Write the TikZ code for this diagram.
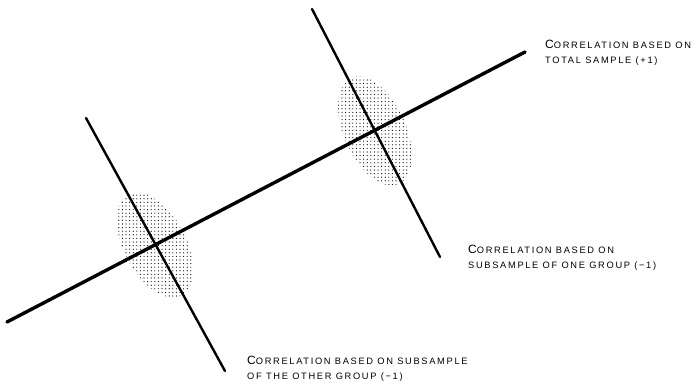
\documentclass[tikz,border=0pt]{standalone}
\usepackage{fontspec}
\newfontfamily\lettering[LetterSpace=18]{Liberation Sans}
\usetikzlibrary{patterns.meta}
\newcommand\initcap[1]{{\fontsize{12}{14}\selectfont #1}}

\tikzset{
  total line/.style={line width=3.4pt,line cap=round},
  group line/.style={line width=2.4pt,line cap=round},
  scatter/.style={pattern={Dots[distance=3.6pt,radius=0.6pt]},pattern color=black},
  caption/.style={anchor=north west,inner sep=0pt,align=left,font={\lettering\fontsize{9.3}{14.5}\selectfont}}
}

\begin{document}
\begin{tikzpicture}[x=1pt,y=1pt]
\useasboundingbox (0,0) rectangle (696,386);
% end points of the three lines
\coordinate (tot0) at (7,64);
\coordinate (tot1) at (525,334);
\coordinate (one0) at (312,377);
\coordinate (one1) at (440,129);
\coordinate (oth0) at (86,268);
\coordinate (oth1) at (225,15);
\coordinate (oneC) at (375,255);
\coordinate (othC) at (155,141);
% the two subsample clouds
\fill[scatter,rotate around={-66:(oneC)}] (oneC) ellipse [x radius=58pt,y radius=31pt];
\fill[scatter,rotate around={-62:(othC)}] (othC) ellipse [x radius=57pt,y radius=31pt];
% lines
\draw[total line] (tot0) -- (tot1);
\draw[group line] (one0) -- (one1);
\draw[group line] (oth0) -- (oth1);
% labels
\node[caption] (totlbl) at (545,346)
  {\initcap{C}ORRELATION BASED ON\\TOTAL SAMPLE (+1)};
\node[caption] (onelbl) at (468,141)
  {\initcap{C}ORRELATION BASED ON\\SUBSAMPLE OF ONE GROUP (−1)};
\node[caption] (othlbl) at (247,30)
  {\initcap{C}ORRELATION BASED ON SUBSAMPLE\\OF THE OTHER GROUP (−1)};
\end{tikzpicture}
\end{document}
